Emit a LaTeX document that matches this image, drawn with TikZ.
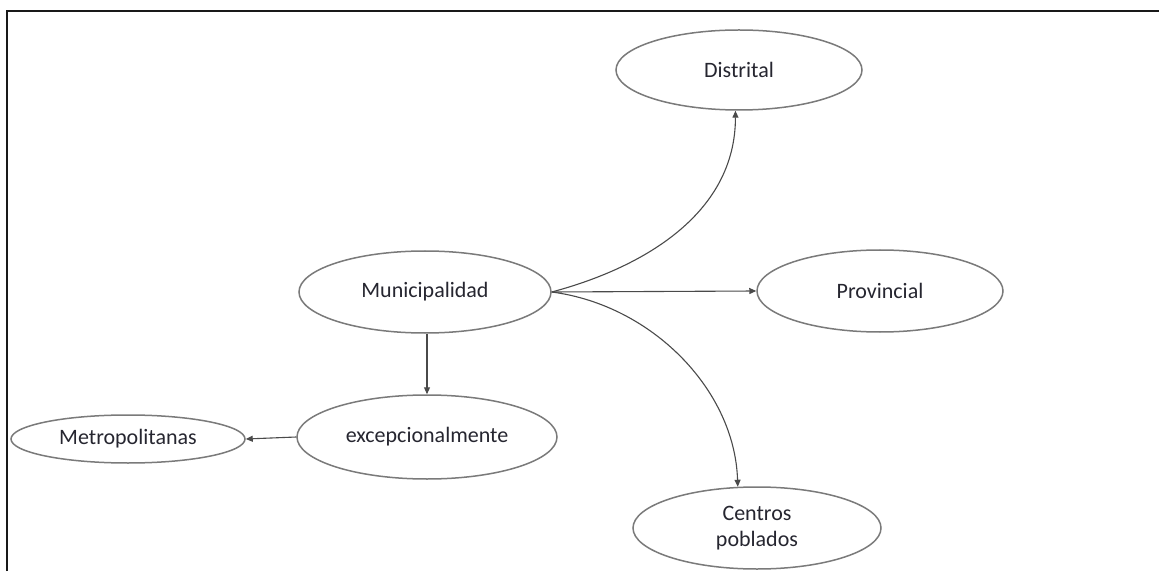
\documentclass[tikz,border=0pt]{standalone}
\usepackage{fontspec}
\setmainfont{Carlito}
\usetikzlibrary{shapes.geometric,arrows.meta}

\definecolor{rim}{HTML}{7A7A7A}
\definecolor{wire}{HTML}{4A4A4A}
\definecolor{ink}{HTML}{262630}

\tikzset{
  oval/.style={ellipse, draw=rim, line width=1.5pt, inner sep=0pt,
    font=\fontsize{22}{26}\selectfont, text=ink, align=center},
  link/.style={draw=wire, line width=1.1pt,
    -{Triangle[length=7pt,width=6pt]}},
}

\begin{document}
\begin{tikzpicture}[x=1pt,y=1pt]
  \useasboundingbox (0,0) rectangle (1159,571);
  \fill[white] (0,0) rectangle (1159,571);

  % frame edges
  \draw[line width=2.8pt, black!90] (7,0) -- (7,560) -- (1159,560);

  % nodes
  \node[oval, minimum width=246pt, minimum height=80pt] (dist) at (739,501) {Distrital};
  \node[oval, minimum width=252pt, minimum height=82pt] (mun)  at (425,279) {Municipalidad};
  \node[oval, minimum width=246pt, minimum height=82pt] (prov) at (880,280) {Provincial};
  \node[oval, minimum width=260pt, minimum height=84pt] (exc)  at (427,134) {excepcionalmente};
  \node[oval, minimum width=234pt, minimum height=48pt] (met)  at (128,132) {Metropolitanas};
  \node[oval, minimum width=248pt, minimum height=82pt] (cen)  at (757,43)  {Centros\\poblados};

  % connectors
  \draw[link] (mun.east) .. controls +(97,26) and +(0,-100) .. (dist.265);
  \draw[link] (mun.east) -- (prov.west);
  \draw[link] (mun.east) .. controls +(100,-13) and +(-3,97) .. (cen.115);
  \draw[link] (exc.north |- mun.south) -- (exc.north);
  \draw[link] (exc.west) -- (met.east);
\end{tikzpicture}
\end{document}
